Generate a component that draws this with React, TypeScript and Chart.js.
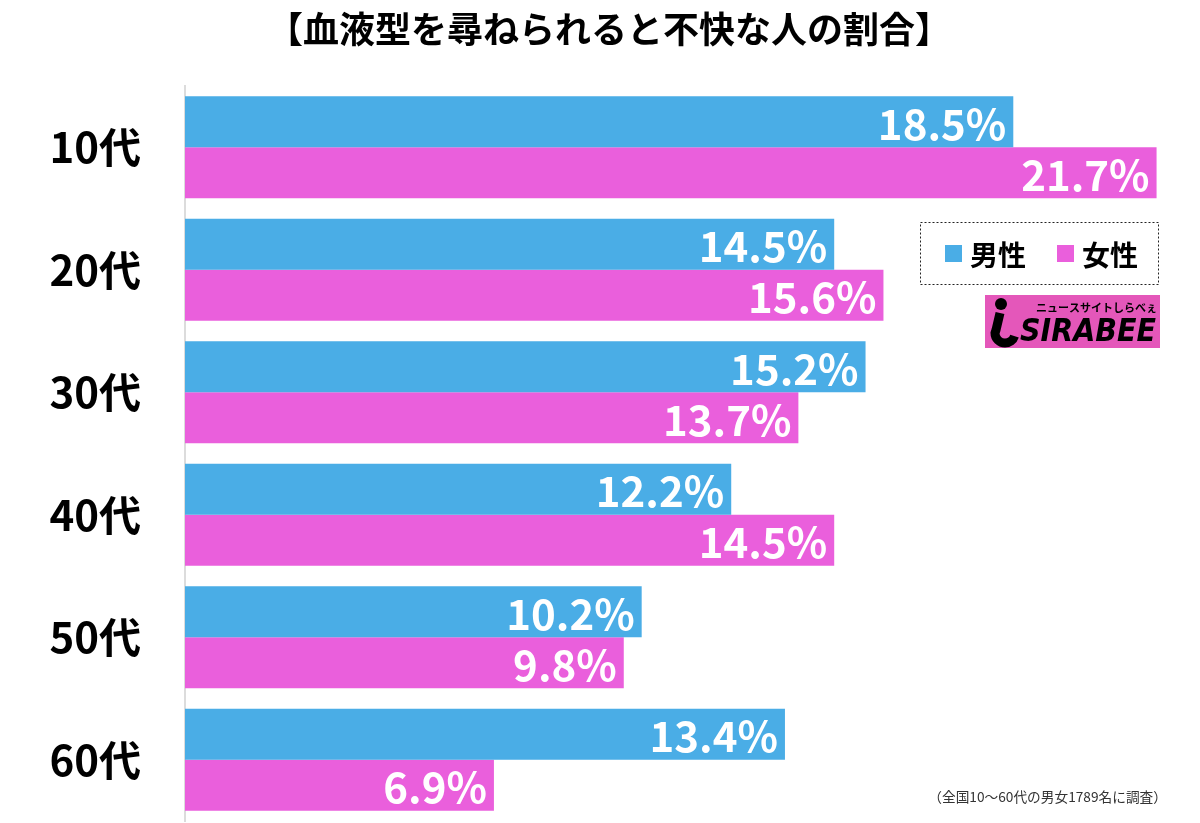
import React, { useEffect, useRef } from "react";
import { Chart, registerables } from "chart.js";
Chart.register(...registerables);

const categories = ["10代", "20代", "30代", "40代", "50代", "60代"];
const maleValues = [18.5, 14.5, 15.2, 12.2, 10.2, 13.4];
const femaleValues = [21.7, 15.6, 13.7, 14.5, 9.8, 6.9];
const seriesLabels = ["男性", "女性"];
const titleText = "【血液型を尋ねられると不快な人の割合】";
const noteText = "（全国10〜60代の男女1789名に調査）";
const logoSub = "ニュースサイトしらべぇ";
const logoMain = "SIRABEE";
const xMax = 22;

const BLUE = "#4aade6";
const PINK = "#ea5fdc";
const JP = '"Noto Sans CJK JP", "Noto Sans", sans-serif';

const overlayPlugin = {
  id: "overlay",
  afterDraw(chart: any) {
    const ctx: CanvasRenderingContext2D = chart.ctx;
    ctx.save();
    // title
    ctx.fillStyle = "#000";
    ctx.font = `bold 36px ${JP}`;
    ctx.textAlign = "center";
    ctx.textBaseline = "middle";
    ctx.fillText(titleText, 609, 29);

    // value labels
    ctx.font = `bold 42px ${JP}`;
    ctx.fillStyle = "#fff";
    ctx.textAlign = "right";
    chart.data.datasets.forEach((ds: any, di: number) => {
      const meta = chart.getDatasetMeta(di);
      meta.data.forEach((el: any, i: number) => {
        const v = ds.data[i];
        ctx.fillText(v.toFixed(1) + "%", el.x - 7, el.y + 2);
      });
    });

    // legend box
    ctx.strokeStyle = "#222";
    ctx.lineWidth = 1;
    ctx.setLineDash([2, 2]);
    ctx.strokeRect(920.5, 222.5, 238, 62);
    ctx.setLineDash([]);
    const items = [
      { x: 945, color: chart.data.datasets[0].backgroundColor, label: chart.data.datasets[0].label },
      { x: 1057, color: chart.data.datasets[1].backgroundColor, label: chart.data.datasets[1].label },
    ];
    ctx.font = `bold 28px ${JP}`;
    ctx.textAlign = "left";
    items.forEach((it) => {
      ctx.fillStyle = it.color;
      ctx.fillRect(it.x, 245, 17, 17);
      ctx.fillStyle = "#000";
      ctx.fillText(it.label, it.x + 25, 255);
    });

    // logo
    ctx.fillStyle = "#e457ba";
    ctx.fillRect(985, 295, 175, 53);
    ctx.fillStyle = "#000";
    ctx.beginPath();
    ctx.arc(1001, 304, 6, 0, Math.PI * 2);
    ctx.fill();
    ctx.lineWidth = 9;
    ctx.strokeStyle = "#000";
    ctx.beginPath();
    ctx.moveTo(1000, 313);
    ctx.lineTo(996, 330);
    ctx.arc(1005, 333, 10, Math.PI, Math.PI * 0.1, true);
    ctx.stroke();
    ctx.font = `bold 11px ${JP}`;
    ctx.textAlign = "right";
    ctx.fillText(logoSub, 1157, 308);
    ctx.save();
    ctx.font = `italic 900 30px "DejaVu Sans", sans-serif`;
    const w = ctx.measureText(logoMain).width;
    ctx.translate(1020, 333);
    ctx.scale(136 / w, 1.05);
    ctx.textAlign = "left";
    ctx.fillText(logoMain, 0, 0);
    ctx.restore();

    // footnote
    ctx.fillStyle = "#333";
    ctx.font = `13.7px ${JP}`;
    ctx.textAlign = "right";
    ctx.fillText(noteText, 1167, 797);
    ctx.restore();
  },
};

export default function App() {
  const ref = useRef<HTMLCanvasElement>(null);
  useEffect(() => {
    if (!ref.current) return;
    const chart = new Chart(ref.current, {
      type: "bar",
      data: {
        labels: categories,
        datasets: [
          { label: seriesLabels[0], data: maleValues, backgroundColor: BLUE, barPercentage: 1, categoryPercentage: 0.833 },
          { label: seriesLabels[1], data: femaleValues, backgroundColor: PINK, barPercentage: 1, categoryPercentage: 0.833 },
        ],
      },
      options: {
        indexAxis: "y",
        responsive: false,
        animation: false,
        devicePixelRatio: 1,
        layout: { padding: { top: 86, right: 30, bottom: 2, left: 0 } },
        plugins: {
          legend: { display: false },
          title: { display: false },
          tooltip: { enabled: false },
        },
        scales: {
          x: { display: false, min: 0, max: xMax },
          y: {
            grid: { display: false },
            border: { display: true, color: "#dcdcdc", width: 2 },
            ticks: {
              color: "#000",
              font: { size: 42, weight: "bold", family: JP },
              padding: 36,
            },
            afterFit: (scale: any) => {
              scale.width = 185;
              scale.paddingTop = 0;
              scale.paddingBottom = 0;
            },
          },
        },
      },
      plugins: [overlayPlugin],
    } as any);
    return () => chart.destroy();
  }, []);
  return (
    <div style={{ position: "absolute", left: 0, top: 0, width: 1200, height: 823, background: "#fff" }}>
      <canvas ref={ref} width={1200} height={823} />
    </div>
  );
}
